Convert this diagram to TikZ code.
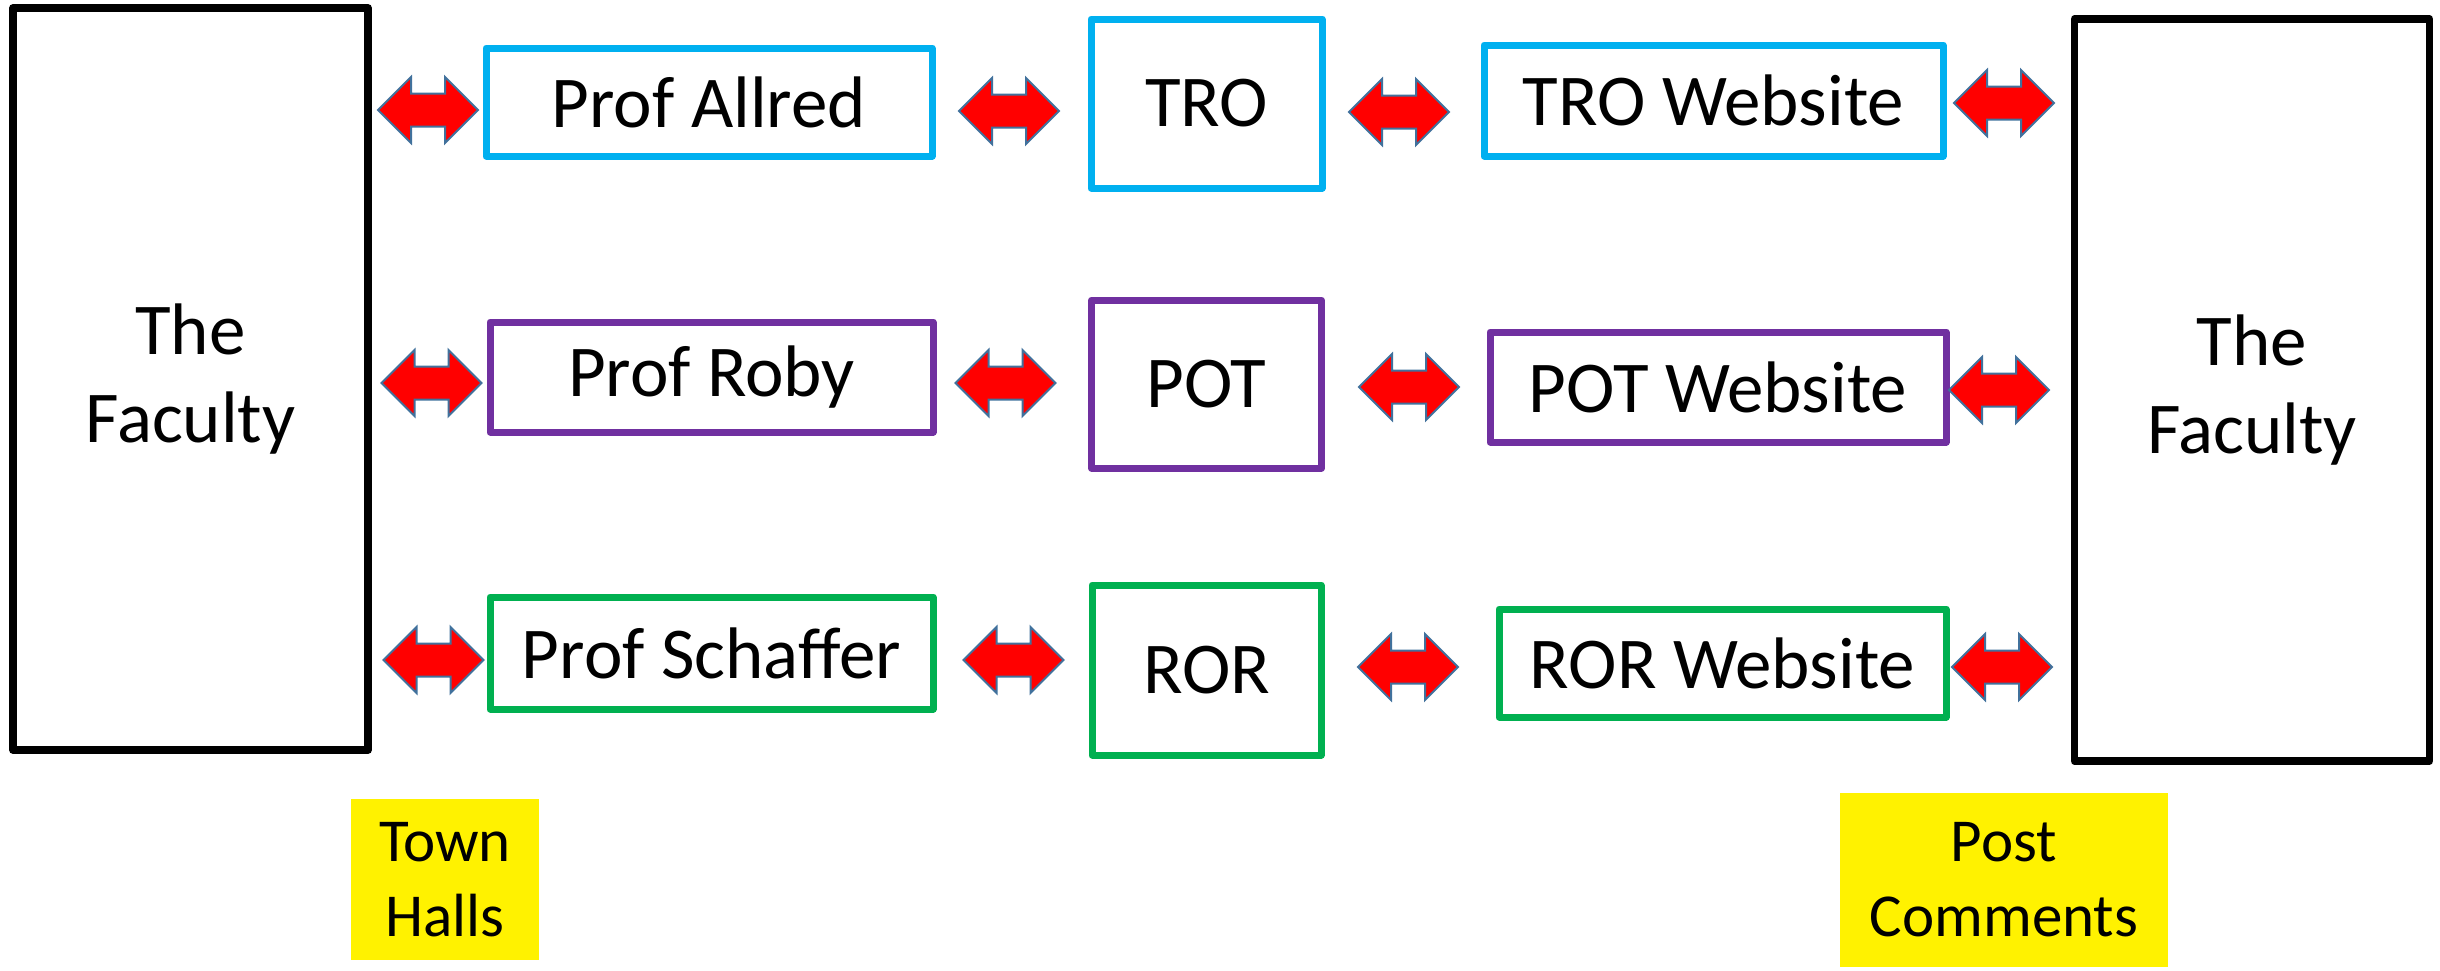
\documentclass[tikz,border=0pt]{standalone}
\usepackage{fontspec}
\setmainfont{Carlito}
\usetikzlibrary{shapes.arrows}

\definecolor{troblue}{RGB}{0,176,240}
\definecolor{potpurple}{RGB}{112,48,160}
\definecolor{rorgreen}{RGB}{0,176,80}
\definecolor{arrowedge}{RGB}{65,113,156}

\tikzset{every picture/.style={line width=7pt}}

\begin{document}
\begin{tikzpicture}[x=1pt,y=1pt,yscale=-1,xscale=1,
    box/.style={draw, rectangle, line width=7pt, line join=round, align=center, inner sep=0pt, font=\fontsize{73}{88}\selectfont},
    facbox/.style={box, draw=black, line width=7.5pt, minimum width=355pt, minimum height=742pt},
    tagbox/.style={fill=yellow, align=center, inner sep=0pt, font=\fontsize{61}{75}\selectfont},
    dblarr/.style={double arrow, draw=arrowedge, fill=red, line width=2pt, double arrow head extend=16.5pt, minimum height=100pt, minimum width=64pt, inner xsep=0pt, inner ysep=15.5pt}]
        \useasboundingbox (0,0) rectangle (2440,970);

        %Shape: Rectangle [faculty, both sides]
        \node[facbox] (facL) at (190.5,379) {The\\Faculty};
        \node[facbox] (facR) at (2252,390) {The\\Faculty};

        %Shape: Rectangle [row TRO]
        \node[box, draw=troblue, minimum width=446pt, minimum height=108pt] (allred) at (709,102) {Prof Allred};
        \node[box, draw=troblue, minimum width=231pt, minimum height=169pt] (tro) at (1206.5,103.5) {TRO};
        \node[box, draw=troblue, minimum width=459pt, minimum height=111pt] (trosite) at (1713.5,100.5) {TRO Website};

        %Shape: Rectangle [row POT]
        \node[box, draw=potpurple, minimum width=443pt, minimum height=110pt] (roby) at (711.5,377) {Prof Roby};
        \node[box, draw=potpurple, minimum width=230pt, minimum height=168pt] (pot) at (1206.5,384) {POT};
        \node[box, draw=potpurple, minimum width=456pt, minimum height=110pt] (potsite) at (1718,387) {POT Website};

        %Shape: Rectangle [row ROR]
        \node[box, draw=rorgreen, minimum width=443pt, minimum height=112pt] (schaffer) at (711.5,653) {Prof Schaffer};
        \node[box, draw=rorgreen, minimum width=229pt, minimum height=170pt] (ror) at (1206.5,670) {ROR};
        \node[box, draw=rorgreen, minimum width=447pt, minimum height=108pt] (rorsite) at (1722.5,663) {ROR Website};

        %Shape: Left-Right Arrow
        \node[dblarr] (arr11) at (428,110) {};
        \node[dblarr] (arr12) at (1009,111) {};
        \node[dblarr] (arr13) at (1399,112) {};
        \node[dblarr] (arr14) at (2004,103) {};
        \node[dblarr] (arr21) at (431.5,383) {};
        \node[dblarr] (arr22) at (1005.5,383) {};
        \node[dblarr] (arr23) at (1409,387) {};
        \node[dblarr] (arr24) at (1999,390) {};
        \node[dblarr] (arr31) at (433.5,660) {};
        \node[dblarr] (arr32) at (1013.5,660) {};
        \node[dblarr] (arr33) at (1408,667) {};
        \node[dblarr] (arr34) at (2002,667) {};

        % Text Node
        \node[tagbox, minimum width=188pt, minimum height=161pt] (town) at (445,879.5) {Town\\Halls};
        % Text Node
        \node[tagbox, minimum width=328pt, minimum height=174pt] (post) at (2004,880) {Post\\Comments};

\end{tikzpicture}
\end{document}
